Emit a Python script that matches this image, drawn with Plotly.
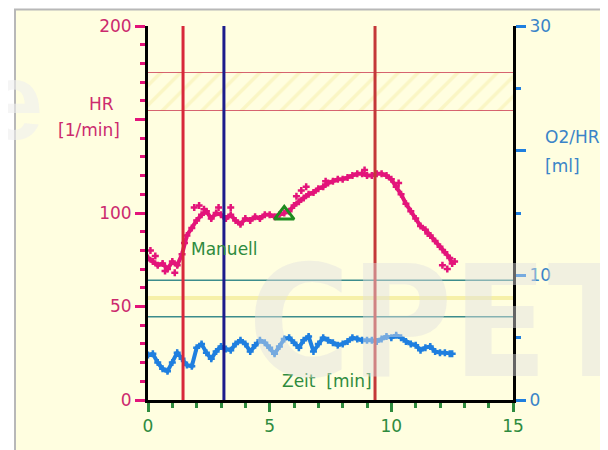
import plotly.graph_objects as go

# ---- data ----
time_hr = [0.0, 0.2, 0.4, 0.6, 0.8, 1.0, 1.2, 1.4, 1.6, 1.8, 2.0, 2.2, 2.4, 2.6, 2.8, 3.0,
           3.2, 3.4, 3.6, 3.8, 4.0, 4.2, 4.4, 4.6, 4.8, 5.0, 5.2, 5.4, 5.6, 5.8, 6.0, 6.2,
           6.4, 6.6, 6.8, 7.0, 7.2, 7.4, 7.6, 7.8, 8.0, 8.2, 8.4, 8.6, 8.8, 9.0, 9.2, 9.4,
           9.6, 9.8, 10.0, 10.2, 10.4, 10.6, 10.8, 11.0, 11.2, 11.4, 11.6, 11.8, 12.0, 12.2,
           12.4, 12.5]
hr = [76, 74, 72, 73, 70, 74, 72, 78, 88, 92, 96, 99, 101, 97, 100, 99,
      97, 99, 96, 94, 97, 96, 98, 97, 99, 99, 98, 99, 100, 101, 104, 106,
      108, 110, 111, 113, 114, 116, 117, 118, 118, 119, 120, 121, 121, 120, 120, 121,
      121, 120, 118, 114, 110, 105, 101, 97, 93, 91, 88, 85, 82, 79,
      76, 73]
hr_extra_t = [0.1, 0.3, 0.7, 1.1, 1.5, 1.9, 2.1, 2.3, 2.9, 3.4, 6.1, 6.3, 6.5, 7.3, 8.9, 10.3, 11.5, 12.3, 12.1, 12.6]
hr_extra = [80, 77, 69, 68, 84, 103, 104, 102, 103, 103, 109, 112, 114, 117, 123, 116, 89, 70, 72, 74]

time_o2 = time_hr
o2hr = [3.6, 3.7, 3.0, 2.5, 2.3, 3.0, 3.8, 3.3, 2.8, 2.7, 4.2, 4.5, 3.8, 3.3, 3.9, 4.3,
        4.1, 4.0, 4.5, 4.8, 4.5, 3.9, 4.4, 4.8, 4.6, 4.2, 3.7, 4.3, 4.9, 5.0, 4.6, 4.2,
        4.8, 5.1, 3.9, 4.5, 5.0, 4.8, 4.6, 4.4, 4.5, 4.7, 5.0, 4.9, 4.8, 4.8, 4.8, 4.7,
        4.9, 5.1, 5.0, 5.2, 5.0, 4.7, 4.5, 4.4, 4.0, 4.2, 4.3, 3.9, 3.8, 3.8, 3.7, 3.7]

vlines = [1.44, 3.12, 9.33]
vline_colors = ["#D8283A", "#1C1C8C", "#C43838"]
hr_band = [155, 175]          # red lines with hatched zone
o2_lines = [44.5, 64]         # teal lines (HR scale)
yellow_line = 54.5
triangle_pt = (5.6, 99)
manual_label = (1.7, 81)

x_tickvals = [0, 5, 10, 15]
hr_tickvals = [0, 50, 100, 150, 200]
hr_ticktext = ["0", "50", "100", "", "200"]
o2_tickvals = [0, 10, 20, 30]
o2_ticktext = ["0", "10", "", "30"]

BG = "#FFFEE0"
MAG = "#E3147A"
MAG_T = "#CC2A6E"
BLUE = "#1F7FDF"
BLUE_T = "#3A84C8"
GREEN = "#2E8B3E"
FONT = "DejaVu Sans"

fig = go.Figure()

# hatched zone
fig.add_trace(go.Scatter(
    x=[0, 15, 15, 0, 0], y=[hr_band[0], hr_band[0], hr_band[1], hr_band[1], hr_band[0]],
    fill="toself", mode="lines", line=dict(width=0),
    fillcolor="rgba(0,0,0,0)",
    fillpattern=dict(shape="/", fgcolor="#F6EDA8", bgcolor=BG, size=14, solidity=0.25),
    hoverinfo="skip", showlegend=False))

fig.add_trace(go.Scatter(
    x=time_hr, y=hr, mode="lines+markers",
    line=dict(color=MAG, width=4),
    marker=dict(symbol="cross-thin", size=5, line=dict(color=MAG, width=2.5)),
    showlegend=False))
fig.add_trace(go.Scatter(
    x=hr_extra_t, y=hr_extra, mode="markers",
    marker=dict(symbol="cross-thin", size=5, line=dict(color=MAG, width=2.5)),
    showlegend=False))

fig.add_trace(go.Scatter(
    x=time_o2, y=o2hr, mode="lines+markers", yaxis="y2",
    line=dict(color=BLUE, width=4),
    marker=dict(symbol="cross-thin", size=5, line=dict(color=BLUE, width=2.5)),
    showlegend=False))

fig.add_trace(go.Scatter(
    x=[triangle_pt[0]], y=[triangle_pt[1]], mode="markers",
    marker=dict(symbol="triangle-up-open", size=17, color="#1E8C1E",
                line=dict(color="#1E8C1E", width=3)),
    showlegend=False))

shapes = []
# outer frame (page px: left edge at 15, top edge just inside the page margin)
shapes.append(dict(type="rect", xref="paper", yref="paper",
                   x0=(15 - 148) / 365, x1=(640 - 148) / 365,
                   y0=(400 - 470) / 374, y1=(400 - 9.5) / 374,
                   line=dict(color="#B8B8B8", width=2), fillcolor=BG, layer="below"))
for yv in hr_band:
    shapes.append(dict(type="line", xref="x", yref="y", x0=0, x1=15, y0=yv, y1=yv,
                       line=dict(color="#C8304A", width=1.5), layer="below"))
for yv in o2_lines:
    shapes.append(dict(type="line", xref="x", yref="y", x0=0, x1=15, y0=yv, y1=yv,
                       line=dict(color="#3C8C8C", width=1.5), layer="below"))
shapes.append(dict(type="line", xref="x", yref="y", x0=0, x1=15, y0=yellow_line, y1=yellow_line,
                   line=dict(color="#F6F0A8", width=4), layer="below"))
for xv, c in zip(vlines, vline_colors):
    shapes.append(dict(type="line", xref="x", yref="y", x0=xv, x1=xv, y0=0, y1=200,
                       line=dict(color=c, width=3)))

annotations = [
    dict(text="HR", xref="paper", yref="paper", x=(116 - 148) / 365, y=(400 - 104) / 374,
         xanchor="right", yanchor="middle", showarrow=False,
         font=dict(size=17, color=MAG_T, family=FONT)),
    dict(text="[1/min]", xref="paper", yref="paper", x=(122 - 148) / 365, y=(400 - 130) / 374,
         xanchor="right", yanchor="middle", showarrow=False,
         font=dict(size=17, color=MAG_T, family=FONT)),
    dict(text="O2/HR", xref="paper", yref="paper", x=(543 - 148) / 365, y=(400 - 137) / 374,
         xanchor="left", yanchor="middle", showarrow=False,
         font=dict(size=17, color=BLUE_T, family=FONT)),
    dict(text="[ml]", xref="paper", yref="paper", x=(543 - 148) / 365, y=(400 - 166) / 374,
         xanchor="left", yanchor="middle", showarrow=False,
         font=dict(size=17, color=BLUE_T, family=FONT)),
    dict(text="Manuell", xref="x", yref="y", x=manual_label[0], y=manual_label[1],
         xanchor="left", yanchor="middle", showarrow=False,
         font=dict(size=17, color=GREEN, family=FONT)),
    dict(text="Zeit  [min]", xref="paper", yref="paper", x=(280 - 148) / 365, y=(400 - 381) / 374,
         xanchor="left", yanchor="middle", showarrow=False,
         font=dict(size=17, color=GREEN, family=FONT)),
    # watermark
    dict(text="<b>CPET</b>", xref="paper", yref="paper", x=(445 - 148) / 365, y=(400 - 322) / 374,
         xanchor="center", yanchor="middle", showarrow=False,
         font=dict(size=155, color="rgba(225,225,225,0.45)", family="DejaVu Sans Condensed, Liberation Sans")),
    dict(text="<b>e</b>", xref="paper", yref="paper", x=(12 - 148) / 365, y=(400 - 100) / 374,
         xanchor="center", yanchor="middle", showarrow=False,
         font=dict(size=110, color="rgba(238,238,238,0.6)", family="Liberation Sans")),
]

# the page adds an 8px body margin, so the figure is 8px smaller and margins shifted by 8px
fig.update_layout(
    width=600, height=442,
    margin=dict(l=140, r=95, t=18, b=50, autoexpand=False),
    paper_bgcolor="white", plot_bgcolor=BG,
    shapes=shapes, annotations=annotations,
    font=dict(family=FONT, size=17),
    xaxis=dict(range=[0, 15], tickvals=x_tickvals, showgrid=False, zeroline=False,
               showline=True, linecolor="black", linewidth=3,
               ticks="outside", ticklen=9, tickwidth=3, tickcolor=GREEN,
               minor=dict(dtick=1, ticklen=5, tickwidth=3, tickcolor=GREEN, ticks="outside"),
               tickfont=dict(color=GREEN, size=17, family=FONT)),
    yaxis=dict(range=[0, 200], tickvals=hr_tickvals, ticktext=hr_ticktext,
               showgrid=False, zeroline=False,
               showline=True, linecolor="black", linewidth=3,
               ticks="outside", ticklen=10, tickwidth=3, tickcolor=MAG,
               minor=dict(dtick=10, ticklen=5, tickwidth=3, tickcolor=MAG, ticks="outside"),
               tickfont=dict(color=MAG_T, size=17, family=FONT)),
    yaxis2=dict(range=[0, 30], overlaying="y", side="right",
                tickvals=o2_tickvals, ticktext=o2_ticktext,
                showgrid=False, zeroline=False,
                showline=True, linecolor="black", linewidth=3,
                ticks="outside", ticklen=10, tickwidth=3, tickcolor=BLUE,
                minor=dict(dtick=5, ticklen=5, tickwidth=3, tickcolor=BLUE, ticks="outside"),
                tickfont=dict(color=BLUE_T, size=17, family=FONT)),
)

fig.write_html("out.html")
